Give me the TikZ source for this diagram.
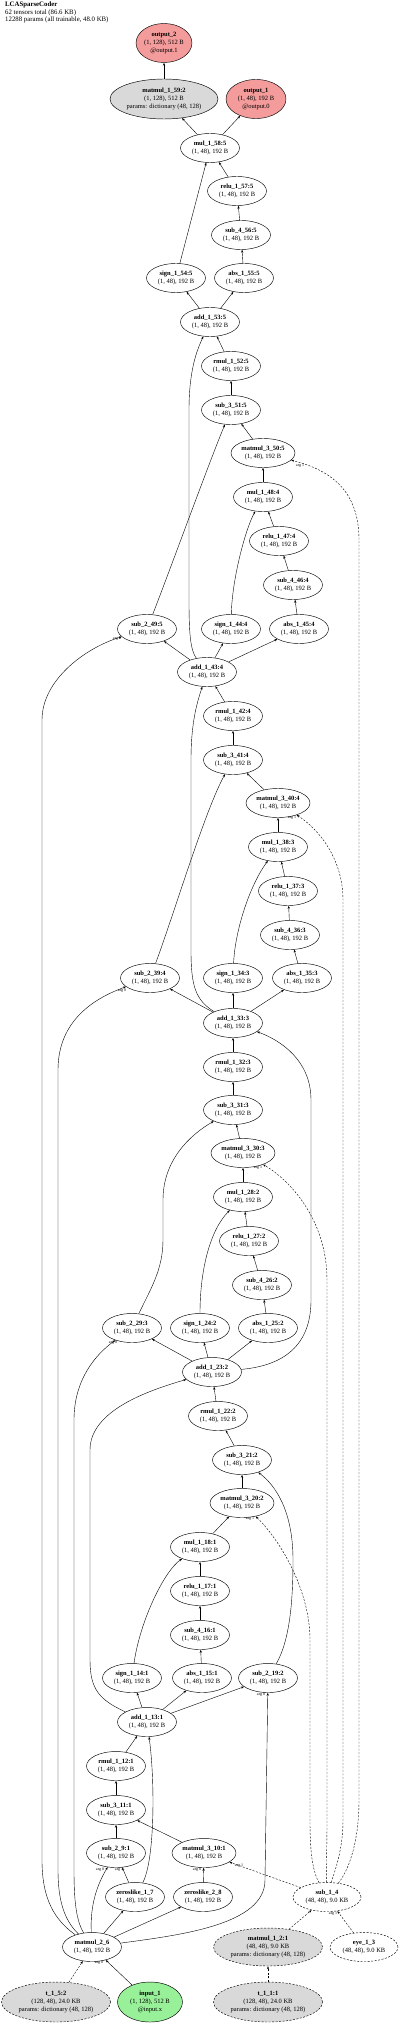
\documentclass[tikz,border=0pt]{standalone}
\usepackage{fontspec}
\setmainfont{Liberation Serif}
\usetikzlibrary{shapes.geometric,arrows.meta}
\definecolor{outred}{HTML}{F49B9B}
\definecolor{ingreen}{HTML}{98F098}
\definecolor{parmgray}{HTML}{D9D9D9}
\newcommand{\opl}[1]{\textbf{#1}\\(1, 48), 192 B}
\begin{document}
\begin{tikzpicture}[x=1pt,y=-1pt,
  base/.style={ellipse, draw, line width=0.45pt, inner sep=0pt, align=center, font=\fontsize{6.5}{8.3}\selectfont},
  op/.style={base, minimum width=59pt, minimum height=29pt},
  opw/.style={op, minimum width=64pt},
  dop/.style={op, dashed, dash pattern=on 2pt off 1.5pt, minimum width=68pt},
  outn/.style={base, fill=outred, minimum width=60pt, minimum height=39pt},
  inn/.style={base, fill=ingreen, minimum width=65pt, minimum height=40pt},
  gray3/.style={base, fill=parmgray, minimum width=109pt, minimum height=40pt},
  dgray3/.style={gray3, dashed, dash pattern=on 2pt off 1.5pt},
  e/.style={draw, line width=0.4pt, -{Stealth[length=3pt,width=2.2pt]}},
  de/.style={e, dash pattern=on 2pt off 1.5pt},
  lab/.style={font=\fontsize{4}{4}\selectfont, inner sep=0pt}
]
\useasboundingbox (0,0) rectangle (400,2025);
% title
\node[anchor=north west, inner sep=0pt, align=left, font=\fontsize{6.8}{6}\selectfont] (title) at (5,2)
  {\textbf{LCASparseCoder}\\62 tensors total (86.6 KB)\\12288 params (all trainable, 48.0 KB)};
% nodes
\node[outn, minimum width=54pt] (out2) at (164,43) {\textbf{output\_2}\\(1, 128), 512 B\\@output.1};
\node[gray3, minimum width=108pt] (mm59) at (164,99) {\textbf{matmul\_1\_59:2}\\(1, 128), 512 B\\params: dictionary (48, 128)};
\node[outn] (out1) at (256,99) {\textbf{output\_1}\\(1, 48), 192 B\\@output.0};
\node[op] (mul58) at (210,148) {\opl{mul\_1\_58:5}};
\node[op] (relu57) at (237,191) {\opl{relu\_1\_57:5}};
\node[op] (sub456) at (241,235) {\opl{sub\_4\_56:5}};
\node[op] (sign54) at (176,278) {\opl{sign\_1\_54:5}};
\node[op] (abs55) at (244,278) {\opl{abs\_1\_55:5}};
\node[op] (add53) at (210,322) {\opl{add\_1\_53:5}};
\node[op] (rmul52) at (231,366) {\opl{rmul\_1\_52:5}};
\node[op] (sub351) at (231,410) {\opl{sub\_3\_51:5}};
\node[opw] (mm350) at (263,453) {\opl{matmul\_3\_50:5}};
\node[op] (mul48) at (263,497) {\opl{mul\_1\_48:4}};
\node[op] (relu47) at (279,541) {\opl{relu\_1\_47:4}};
\node[op] (sub446) at (293,585) {\opl{sub\_4\_46:4}};
\node[op] (sub249) at (147,629) {\opl{sub\_2\_49:5}};
\node[op] (sign44) at (231,629) {\opl{sign\_1\_44:4}};
\node[op] (abs45) at (299,629) {\opl{abs\_1\_45:4}};
\node[op] (add43) at (207,672) {\opl{add\_1\_43:4}};
\node[op] (rmul42) at (233,716) {\opl{rmul\_1\_42:4}};
\node[op] (sub341) at (233,760) {\opl{sub\_3\_41:4}};
\node[opw] (mm340) at (278,803) {\opl{matmul\_3\_40:4}};
\node[op] (mul38) at (278,847) {\opl{mul\_1\_38:3}};
\node[op] (relu37) at (288,891) {\opl{relu\_1\_37:3}};
\node[op] (sub436) at (290,935) {\opl{sub\_4\_36:3}};
\node[op] (sub239) at (150,978) {\opl{sub\_2\_39:4}};
\node[op] (sign34) at (233,978) {\opl{sign\_1\_34:3}};
\node[op] (abs35) at (302,978) {\opl{abs\_1\_35:3}};
\node[op] (add33) at (233,1023) {\opl{add\_1\_33:3}};
\node[op] (rmul32) at (233,1067) {\opl{rmul\_1\_32:3}};
\node[op] (sub331) at (233,1110) {\opl{sub\_3\_31:3}};
\node[opw] (mm330) at (243,1153) {\opl{matmul\_3\_30:3}};
\node[op] (mul28) at (243,1197) {\opl{mul\_1\_28:2}};
\node[op] (relu27) at (249,1241) {\opl{relu\_1\_27:2}};
\node[op] (sub426) at (262,1285) {\opl{sub\_4\_26:2}};
\node[op] (sub229) at (132,1328) {\opl{sub\_2\_29:3}};
\node[op] (sign24) at (200,1328) {\opl{sign\_1\_24:2}};
\node[op] (abs25) at (268,1328) {\opl{abs\_1\_25:2}};
\node[op] (add23) at (212,1372) {\opl{add\_1\_23:2}};
\node[op] (rmul22) at (218,1416) {\opl{rmul\_1\_22:2}};
\node[op] (sub321) at (242,1460) {\opl{sub\_3\_21:2}};
\node[opw] (mm320) at (242,1503) {\opl{matmul\_3\_20:2}};
\node[op] (mul18) at (200,1547) {\opl{mul\_1\_18:1}};
\node[op] (relu17) at (200,1591) {\opl{relu\_1\_17:1}};
\node[op] (sub416) at (200,1635) {\opl{sub\_4\_16:1}};
\node[op] (sign14) at (132,1678) {\opl{sign\_1\_14:1}};
\node[op] (abs15) at (202,1678) {\opl{abs\_1\_15:1}};
\node[op] (sub219) at (268,1678) {\opl{sub\_2\_19:2}};
\node[op] (add13) at (147,1722) {\opl{add\_1\_13:1}};
\node[op] (rmul12) at (116,1766) {\opl{rmul\_1\_12:1}};
\node[op] (sub311) at (116,1810) {\opl{sub\_3\_11:1}};
\node[op] (sub29) at (116,1853) {\opl{sub\_2\_9:1}};
\node[opw] (mm310) at (204,1853) {\opl{matmul\_3\_10:1}};
\node[op] (zl17) at (135,1897) {\opl{zeroslike\_1\_7}};
\node[op] (zl28) at (203,1897) {\opl{zeroslike\_2\_8}};
\node[dop] (sub14) at (327,1897) {\textbf{sub\_1\_4}\\(48, 48), 9.0 KB};
\node[op] (mm26) at (92,1947) {\opl{matmul\_2\_6}};
\node[dgray3, minimum height=38pt] (mm12) at (268,1947) {\textbf{matmul\_1\_2:1}\\(48, 48), 9.0 KB\\params: dictionary (48, 128)};
\node[dop] (eye13) at (364,1947) {\textbf{eye\_1\_3}\\(48, 48), 9.0 KB};
\node[dgray3] (t15) at (56,2002) {\textbf{t\_1\_5:2}\\(128, 48), 24.0 KB\\params: dictionary (48, 128)};
\node[inn] (in1) at (150,2002) {\textbf{input\_1}\\(1, 128), 512 B\\@input.x};
\node[dgray3] (t11) at (268,2002) {\textbf{t\_1\_1:1}\\(128, 48), 24.0 KB\\params: dictionary (48, 128)};

% ---- edges: top block
\draw[e] (mm59) -- (out2);
\draw[e] (mul58) -- (mm59);
\draw[e] (mul58) -- (out1);
\draw[e] (relu57) -- (mul58);
\draw[e] (sign54) -- (mul58);
\draw[e] (sub456) -- (relu57);
\draw[e] (abs55) -- (sub456);
\draw[e] (add53) -- (sign54);
\draw[e] (add53) -- (abs55);
\draw[e] (rmul52) -- (add53);
\draw[e] (sub351) -- (rmul52);
\draw[e] (mm350) -- (sub351);
\draw[e] (sub249) .. controls (170,570) and (210,460) .. (sub351);
\draw[e] (add43) .. controls (190,650) and (189,630) .. (189,600) -- (189,410) .. controls (189,370) and (197,350) .. (add53);
% block 4
\draw[e] (mul48) -- (mm350);
\draw[e] (relu47) -- (mul48);
\draw[e] (sign44) .. controls (232,580) and (245,530) .. (mul48);
\draw[e] (sub446) -- (relu47);
\draw[e] (abs45) -- (sub446);
\draw[e] (add43) -- (sub249);
\draw[e] (add43) -- (sign44);
\draw[e] (add43) -- (abs45);
\draw[e] (rmul42) -- (add43);
\draw[e] (sub341) -- (rmul42);
\draw[e] (mm340) -- (sub341);
\draw[e] (sub239) .. controls (172,920) and (205,810) .. (sub341);
\draw[e] (add33) .. controls (195,1000) and (191,985) .. (191,950) -- (191,760) .. controls (191,720) and (198,700) .. (add43);
% block 3
\draw[e] (mul38) -- (mm340);
\draw[e] (relu37) -- (mul38);
\draw[e] (sign34) .. controls (235,930) and (250,885) .. (mul38);
\draw[e] (sub436) -- (relu37);
\draw[e] (abs35) -- (sub436);
\draw[e] (add33) -- (sub239);
\draw[e] (add33) -- (sign34);
\draw[e] (add33) -- (abs35);
\draw[e] (rmul32) -- (add33);
\draw[e] (sub331) -- (rmul32);
\draw[e] (mm330) -- (sub331);
\draw[e] (sub229) .. controls (150,1290) and (163,1270) .. (163,1240) -- (163,1200) .. controls (163,1160) and (190,1135) .. (sub331);
\draw[e] (add23) .. controls (290,1365) and (311,1340) .. (311,1300) -- (311,1100) .. controls (311,1060) and (280,1040) .. (add33);
% block 2
\draw[e] (mul28) -- (mm330);
\draw[e] (relu27) -- (mul28);
\draw[e] (sign24) .. controls (200,1270) and (210,1230) .. (mul28);
\draw[e] (sub426) -- (relu27);
\draw[e] (abs25) -- (sub426);
\draw[e] (add23) -- (sub229);
\draw[e] (add23) -- (sign24);
\draw[e] (add23) -- (abs25);
\draw[e] (rmul22) -- (add23);
\draw[e] (sub321) -- (rmul22);
\draw[e] (mm320) -- (sub321);
\draw[e] (sub219) .. controls (290,1640) and (293,1600) .. (293,1560) .. controls (293,1510) and (275,1485) .. (sub321);
\draw[e] (add13) .. controls (100,1700) and (90,1690) .. (90,1660) -- (90,1450) .. controls (90,1410) and (150,1390) .. (add23);
% block 1
\draw[e] (mul18) -- (mm320);
\draw[e] (relu17) -- (mul18);
\draw[e] (sign14) .. controls (140,1620) and (165,1570) .. (mul18);
\draw[e] (sub416) -- (relu17);
\draw[e] (abs15) -- (sub416);
\draw[e] (add13) -- (sign14);
\draw[e] (add13) -- (abs15);
\draw[e] (add13) -- (sub219);
\draw[e] (rmul12) -- (add13);
\draw[e] (sub311) -- (rmul12);
\draw[e] (sub29) -- (sub311);
\draw[e] (mm310) -- (sub311);
\draw[e] (zl17) .. controls (155,1860) and (155,1780) .. (add13);
\draw[e] (zl17) -- (sub29);
\draw[e] (zl28) -- (mm310);
% from matmul_2_6
\draw[e] (mm26) .. controls (90,1905) and (97,1885) .. (sub29);
\draw[e] (mm26) -- (zl17);
\draw[e] (mm26) -- (zl28);
\draw[e] (mm26) .. controls (180,1935) and (265,1925) .. (265,1880) -- (sub219);
\draw[e] (mm26) .. controls (76,1920) and (74,1900) .. (74,1870) -- (74,1420) .. controls (74,1380) and (95,1355) .. (sub229);
\draw[e] (mm26) .. controls (64,1920) and (58,1900) .. (58,1870) -- (58,1070) .. controls (58,1020) and (95,998) .. (sub239);
\draw[e] (mm26) .. controls (55,1920) and (42,1900) .. (42,1860) -- (42,720) .. controls (42,680) and (85,648) .. (sub249);
% from sub_1_4
\draw[de] (sub14) -- (mm310);
\draw[de] (sub14) .. controls (312,1870) and (310,1850) .. (310,1820) -- (310,1640) .. controls (310,1590) and (280,1540) .. (mm320);
\draw[de] (sub14) .. controls (326,1870) and (327,1850) .. (327,1820) -- (327,1280) .. controls (327,1220) and (290,1180) .. (mm330);
\draw[de] (sub14) .. controls (335,1870) and (343,1850) .. (343,1820) -- (343,900) .. controls (343,860) and (320,830) .. (mm340);
\draw[de] (sub14) .. controls (345,1875) and (359,1850) .. (359,1800) -- (359,540) .. controls (359,490) and (330,470) .. (mm350);
% inputs
\draw[de] (mm12) -- (sub14);
\draw[de] (eye13) -- (sub14);
\draw[de] (t11) -- (mm12);
\draw[de] (t15) -- (mm26);
\draw[e] (in1) -- (mm26);
% arg labels
\node[lab] (l50) at (300,466) {arg 1};
\node[lab] (l49) at (117,639) {arg 0};
\node[lab] (l40) at (292,818) {arg 1};
\node[lab] (l39) at (122,991) {arg 0};
\node[lab] (l30) at (258,1168) {arg 1};
\node[lab] (l29) at (113,1343) {arg 0};
\node[lab] (l20) at (250,1519) {arg 1};
\node[lab] (l19) at (261,1695) {arg 0};
\node[lab] (l10a) at (239,1866) {arg 1};
\node[lab] (l10b) at (197,1870) {arg 0};
\node[lab] (l9a) at (100,1870) {arg 0};
\node[lab] (l9b) at (119,1870) {arg 1};
\node[lab] (l4) at (333,1914) {arg 1};
\node[lab] (l6) at (99,1963) {arg 0};
\end{tikzpicture}
\end{document}
